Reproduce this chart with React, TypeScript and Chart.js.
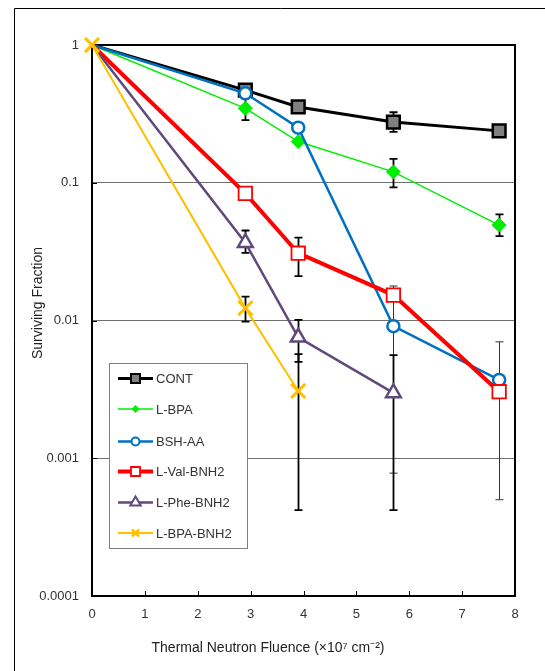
import React, { useEffect, useRef } from 'react';
import { Chart, registerables } from 'chart.js';

Chart.register(...registerables);

const fluence = [0, 2.9, 3.9, 5.7, 7.7];
const seriesNames = ['CONT', 'L-BPA', 'BSH-AA', 'L-Val-BNH2', 'L-Phe-BNH2', 'L-BPA-BNH2'];
const contValues = [1, 0.47, 0.355, 0.276, 0.238];
const lbpaValues = [1, 0.347, 0.199, 0.12, 0.0493];
const bshaaValues = [1, 0.446, 0.251, 0.0091, 0.0037];
const lvalValues = [1, 0.0838, 0.0308, 0.0153, 0.00304];
const lpheValues = [1, 0.0367, 0.00755, 0.00298];
const lbpabnhValues = [1, 0.0123, 0.00308];

// error bars: [upper, lower] or null
const contErr = [null, [0.51, 0.43], null, [0.325, 0.234], null];
const lbpaErr = [null, [0.41, 0.285], null, [0.149, 0.0925], [0.059, 0.041]];
const bshaaErr = [null, null, null, [0.0178, 0.00078], [0.007, 0.0005]];
const lvalErr = [null, null, [0.04, 0.021], null, null];
const lpheErr = [null, [0.045, 0.031], [0.0101, 0.005], [0.0056, 0.00042]];
const lbpabnhErr = [null, [0.0149, 0.0098], [0.0057, 0.00042]];

const yTickValues = [0.0001, 0.001, 0.01, 0.1, 1];
const yTickLabels = ['0.0001', '0.001', '0.01', '0.1', '1'];
const xTickValues = [0, 1, 2, 3, 4, 5, 6, 7, 8];
const yTitle = 'Surviving Fraction';
const xTitle = 'Thermal Neutron Fluence (\u00d710\u2077 cm\u207b\u00b2)';

const FONT = '"Liberation Sans", Arial, sans-serif';

type Style = {
  color: string; width: number; point: string; radius: number; fill: string;
  pbw: number; showFirst: boolean; errWidth: number; errColor: string;
  legendR: number;
};

const styles: Style[] = [
  { color: '#000000', width: 3, point: 'rect', radius: 9, fill: '#808080', pbw: 2.5, showFirst: false, errWidth: 1.8, errColor: '#000', legendR: 6 },
  { color: '#00ee00', width: 1.5, point: 'rectRot', radius: 7, fill: '#00ee00', pbw: 1, showFirst: false, errWidth: 1.8, errColor: '#000', legendR: 4 },
  { color: '#0070C0', width: 2.5, point: 'circle', radius: 6, fill: '#ffffff', pbw: 2.5, showFirst: false, errWidth: 1, errColor: '#333', legendR: 4 },
  { color: '#ff0000', width: 4, point: 'rect', radius: 9.5, fill: '#ffffff', pbw: 1.8, showFirst: false, errWidth: 1.8, errColor: '#000', legendR: 6 },
  { color: '#604A7B', width: 2.5, point: 'triangle', radius: 8.5, fill: '#ffffff', pbw: 2.5, showFirst: false, errWidth: 1.8, errColor: '#000', legendR: 6 },
  { color: '#FFC000', width: 2, point: 'crossRot', radius: 10, fill: '#FFC000', pbw: 3, showFirst: true, errWidth: 1.8, errColor: '#000', legendR: 6 },
];

const seriesValues = [contValues, lbpaValues, bshaaValues, lvalValues, lpheValues, lbpabnhValues];
const seriesErrs: any[] = [contErr, lbpaErr, bshaaErr, lvalErr, lpheErr, lbpabnhErr];

function drawLegendMarker(ctx: CanvasRenderingContext2D, s: Style, x: number, y: number) {
  const r = s.legendR;
  ctx.save();
  ctx.lineWidth = Math.min(s.pbw, 2);
  ctx.strokeStyle = s.point === 'rect' && s.fill !== '#ffffff' ? '#000' : s.color;
  ctx.fillStyle = s.fill;
  ctx.beginPath();
  if (s.point === 'rect') {
    const h = r * 0.75;
    ctx.rect(x - h, y - h, 2 * h, 2 * h);
    ctx.fill(); ctx.stroke();
  } else if (s.point === 'rectRot') {
    ctx.moveTo(x, y - r); ctx.lineTo(x + r, y); ctx.lineTo(x, y + r); ctx.lineTo(x - r, y); ctx.closePath();
    ctx.fill();
  } else if (s.point === 'circle') {
    ctx.arc(x, y, r, 0, Math.PI * 2);
    ctx.fill(); ctx.stroke();
  } else if (s.point === 'triangle') {
    ctx.moveTo(x, y - r); ctx.lineTo(x + r * 0.87, y + r * 0.5); ctx.lineTo(x - r * 0.87, y + r * 0.5); ctx.closePath();
    ctx.fill(); ctx.stroke();
  } else if (s.point === 'crossRot') {
    const h = r * 0.6;
    ctx.lineWidth = 2.5;
    ctx.moveTo(x - h, y - h); ctx.lineTo(x + h, y + h);
    ctx.moveTo(x + h, y - h); ctx.lineTo(x - h, y + h);
    ctx.stroke();
  }
  ctx.restore();
}

const customPlugin = {
  id: 'custom',
  beforeDatasetsDraw(chart: any) {
    const { ctx, chartArea: a, scales } = chart;
    const xs = scales.x, ys = scales.y;
    ctx.save();
    // inward ticks
    ctx.strokeStyle = '#000';
    ctx.lineWidth = 1;
    yTickValues.forEach((v) => {
      const y = Math.round(ys.getPixelForValue(v)) + 0.5;
      ctx.beginPath(); ctx.moveTo(a.left, y); ctx.lineTo(a.left + 5, y); ctx.stroke();
    });
    xTickValues.forEach((v) => {
      const x = Math.round(xs.getPixelForValue(v)) + 0.5;
      ctx.beginPath(); ctx.moveTo(x, a.bottom); ctx.lineTo(x, a.bottom - 5); ctx.stroke();
    });
    // plot border
    ctx.lineWidth = 2;
    ctx.strokeStyle = '#000';
    ctx.strokeRect(a.left, a.top, a.right - a.left, a.bottom - a.top);
    // error bars
    seriesErrs.forEach((errs, si) => {
      const s = styles[si];
      ctx.strokeStyle = s.errColor;
      ctx.lineWidth = s.errWidth;
      errs.forEach((e: any, i: number) => {
        if (!e) return;
        const x = Math.round(xs.getPixelForValue(fluence[i])) + 0.5;
        const yu = ys.getPixelForValue(e[0]);
        const yl = ys.getPixelForValue(e[1]);
        ctx.beginPath();
        ctx.moveTo(x, yu); ctx.lineTo(x, yl);
        ctx.moveTo(x - 4, yu); ctx.lineTo(x + 4, yu);
        ctx.moveTo(x - 4, yl); ctx.lineTo(x + 4, yl);
        ctx.stroke();
      });
    });
    ctx.restore();
  },
  afterDatasetsDraw(chart: any) {
    const { ctx } = chart;
    ctx.save();
    // legend box
    const bx = 109.5, by = 363.5, bw = 138, bh = 185;
    ctx.fillStyle = '#ffffff';
    ctx.fillRect(bx, by, bw, bh);
    ctx.strokeStyle = '#808080';
    ctx.lineWidth = 1;
    ctx.strokeRect(bx, by, bw, bh);
    const rows = [378.5, 409, 441.5, 471.5, 502.5, 533];
    seriesNames.forEach((name, i) => {
      const s = styles[i];
      const y = rows[i];
      ctx.strokeStyle = s.color;
      ctx.lineWidth = s.width;
      ctx.beginPath(); ctx.moveTo(118, y); ctx.lineTo(153, y); ctx.stroke();
      drawLegendMarker(ctx, s, 135.5, y);
      ctx.fillStyle = '#333';
      ctx.font = `13px ${FONT}`;
      ctx.textAlign = 'left';
      ctx.textBaseline = 'middle';
      ctx.fillText(name, 156, y + 1);
    });
    ctx.restore();
  },
  afterDraw(chart: any) {
    const { ctx } = chart;
    ctx.save();
    // outer frame
    ctx.strokeStyle = '#000';
    ctx.lineWidth = 1;
    ctx.beginPath();
    ctx.moveTo(14.5, 700); ctx.lineTo(14.5, 8.5); ctx.lineTo(600, 8.5);
    ctx.stroke();
    // titles
    ctx.fillStyle = '#222';
    ctx.font = `14px ${FONT}`;
    ctx.textAlign = 'center';
    ctx.textBaseline = 'middle';
    ctx.fillText(xTitle, 268, 648);
    ctx.translate(38, 303);
    ctx.rotate(-Math.PI / 2);
    ctx.fillText(yTitle, 0, 0);
    ctx.restore();
  },
};

export default function App() {
  const ref = useRef<HTMLCanvasElement>(null);
  useEffect(() => {
    if (!ref.current) return;
    const datasets = seriesNames.map((name, si) => {
      const s = styles[si];
      const vals = seriesValues[si];
      return {
        label: name,
        data: vals.map((v, i) => ({ x: fluence[i], y: v })),
        borderColor: s.color,
        borderWidth: s.width,
        pointStyle: s.point,
        pointRadius: vals.map((_, i) => (i === 0 && !s.showFirst ? 0 : s.radius)),
        pointBackgroundColor: s.fill,
        pointBorderColor: s.point === 'rect' && s.fill !== '#ffffff' ? '#000' : s.color,
        pointBorderWidth: s.pbw,
        pointHoverRadius: 0,
        tension: 0,
        fill: false,
        clip: false as any,
        order: seriesNames.length - si,
      };
    });
    const chart = new Chart(ref.current, {
      type: 'line',
      data: { datasets: datasets as any },
      options: {
        animation: false,
        responsive: true,
        maintainAspectRatio: false,
        layout: { padding: { left: 0, top: 45, right: 30, bottom: 0 } },
        plugins: { legend: { display: false }, tooltip: { enabled: false } },
        scales: {
          x: {
            type: 'linear',
            min: 0,
            max: 8,
            afterBuildTicks: (scale: any) => { scale.ticks = xTickValues.map((v) => ({ value: v })); },
            afterFit: (scale: any) => { scale.height = 75; },
            grid: { display: false, drawTicks: false },
            border: { display: false },
            ticks: {
              padding: 11,
              color: '#333',
              font: { family: FONT, size: 13 },
              callback: (v: any) => String(v),
            },
          },
          y: {
            type: 'logarithmic',
            min: 0.0001,
            max: 1,
            afterBuildTicks: (scale: any) => { scale.ticks = yTickValues.map((v) => ({ value: v })); },
            afterFit: (scale: any) => { scale.width = 92; },
            grid: {
              drawTicks: false,
              color: (c: any) => {
                const v = c.tick && c.tick.value;
                return v === 0.1 || v === 0.01 || v === 0.001 ? '#707070' : 'rgba(0,0,0,0)';
              },
              lineWidth: 1,
            },
            border: { display: false },
            ticks: {
              padding: 13,
              color: '#333',
              font: { family: FONT, size: 13 },
              callback: (v: any) => {
                const idx = yTickValues.findIndex((t) => Math.abs(Math.log10(t) - Math.log10(v)) < 1e-6);
                return idx >= 0 ? yTickLabels[idx] : '';
              },
            },
          },
        },
      },
      plugins: [customPlugin],
    });
    return () => chart.destroy();
  }, []);
  return (
    <div style={{ position: 'absolute', left: 0, top: 0, width: 545, height: 671, background: '#fff' }}>
      <canvas ref={ref} />
    </div>
  );
}
